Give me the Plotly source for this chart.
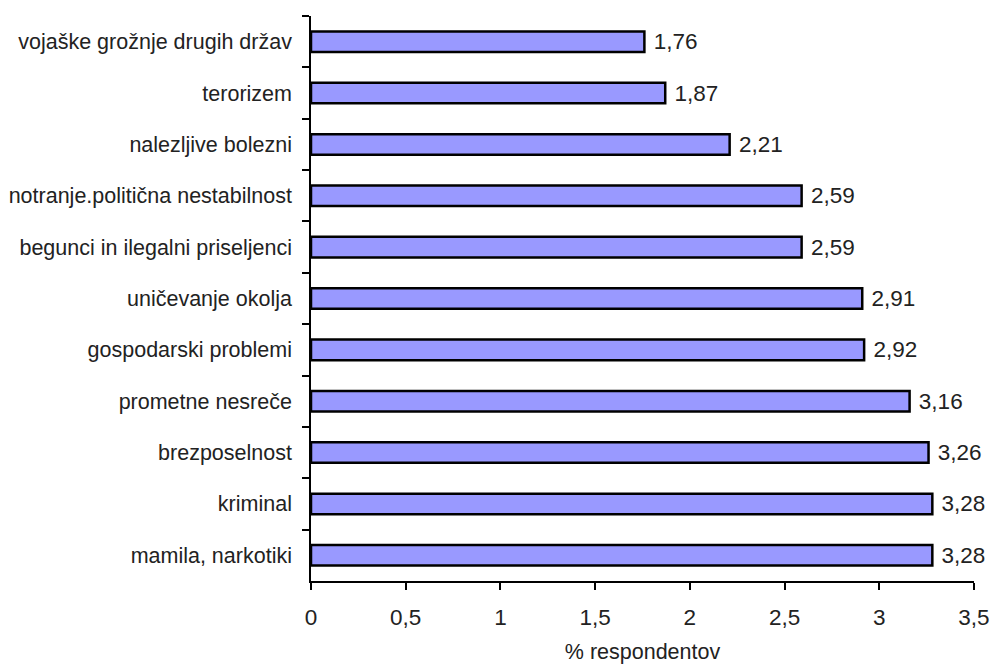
import plotly.graph_objects as go

categories = [
    "vojaške grožnje drugih držav",
    "terorizem",
    "nalezljive bolezni",
    "notranje.politična nestabilnost",
    "begunci in ilegalni priseljenci",
    "uničevanje okolja",
    "gospodarski problemi",
    "prometne nesreče",
    "brezposelnost",
    "kriminal",
    "mamila, narkotiki",
]
values = [1.76, 1.87, 2.21, 2.59, 2.59, 2.91, 2.92, 3.16, 3.26, 3.28, 3.28]
x_ticks = [0, 0.5, 1, 1.5, 2, 2.5, 3, 3.5]
x_title = "% respondentov"

FONT = "Liberation Sans, Arial, sans-serif"

fig = go.Figure(
    go.Bar(
        x=values,
        y=categories,
        orientation="h",
        marker=dict(color="#9999FF", line=dict(color="black", width=2.5)),
        texttemplate="\u00a0%{x:.2f}",
        textposition="outside",
        constraintext="none",
        textfont=dict(family=FONT, size=22.5, color="#222222"),
        cliponaxis=False,
    )
)

fig.update_layout(
    width=992,
    height=664,
    margin=dict(l=311, r=18, t=16, b=83),
    plot_bgcolor="white",
    paper_bgcolor="white",
    separators=", ",
    bargap=0.6,
    showlegend=False,
    font=dict(family=FONT, size=21.5, color="#222222"),
)

fig.update_xaxes(
    range=[0, 3.5],
    tickvals=x_ticks,
    ticks="outside",
    ticklen=7,
    tickwidth=1.5,
    tickcolor="black",
    showline=True,
    linecolor="black",
    linewidth=1.5,
    showgrid=False,
    zeroline=False,
    automargin=False,
    ticklabelstandoff=8,
    title=dict(text=x_title, font=dict(size=21.5), standoff=18),
    tickfont=dict(size=22.5),
)

fig.update_yaxes(
    categoryorder="array",
    categoryarray=categories,
    autorange="reversed",
    tickson="boundaries",
    ticks="outside",
    ticklen=7,
    tickwidth=1.5,
    tickcolor="black",
    showline=True,
    linecolor="black",
    linewidth=1.5,
    showgrid=False,
    zeroline=False,
    automargin=False,
    ticklabelstandoff=13,
    tickfont=dict(size=21.5),
)

fig.write_html(
    "out.html",
    config={"displayModeBar": False},
    post_script="document.body.style.margin='0';document.body.style.overflow='hidden';",
)
